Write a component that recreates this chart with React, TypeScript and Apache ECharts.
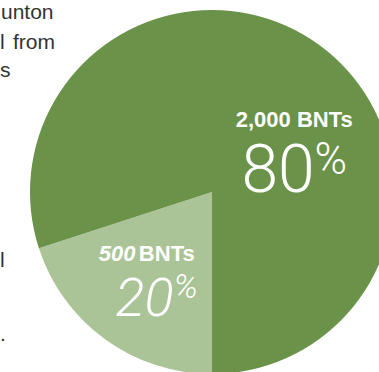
import React, { useEffect, useRef } from 'react';
import * as echarts from 'echarts';

const categories = ['500 BNTs', '2,000 BNTs'];
const amounts = [500, 2000];
const amountLabels = ['500', '2,000'];
const shares = ['20', '80'];
const colors = ['#abc497', '#6a9249'];
const sideTexts = ['unton', 'l', 'from', 's', 'l', '.'];

export default function App() {
  const ref = useRef<HTMLDivElement>(null);
  useEffect(() => {
    const chart = echarts.init(ref.current!, null, { renderer: 'svg' });
    const sidePos = [
      [1, 11],
      [0, 41],
      [13, 41],
      [0, 69],
      [0, 259],
      [0, 333],
    ];
    chart.setOption({
      animation: false,
      graphic: sideTexts.map((t, i) => ({
        type: 'text',
        x: sidePos[i][0],
        y: sidePos[i][1],
        style: {
          text: t,
          fill: '#333333',
          font: '21px "Liberation Sans", Arial, sans-serif',
          verticalAlign: 'middle',
          align: 'left',
        },
      })),
      series: [
        {
          type: 'pie',
          center: [212, 192],
          radius: 182,
          startAngle: 270,
          clockwise: true,
          silent: true,
          labelLine: { show: false },
          emphasis: { disabled: true },
          itemStyle: { borderWidth: 0 },
          label: {
            show: true,
            position: 'inside',
            color: '#ffffff',
            fontFamily: '"Liberation Sans", Arial, sans-serif',
          },
          data: [
            {
              value: amounts[0],
              name: categories[0],
              itemStyle: { color: colors[0] },
              label: {
                offset: [-10, 14],
                formatter: `{a|${amountLabels[0]}} {b|BNTs}\n{c|${shares[0]}}{d|%}`,
                rich: {
                  a: { fontSize: 22, fontWeight: 'bold', fontStyle: 'italic', color: '#fff', fontFamily: '"Liberation Sans", Arial', lineHeight: 31 },
                  b: { fontSize: 22, fontWeight: 'bold', color: '#fff', fontFamily: '"Liberation Sans", Arial', lineHeight: 31 },
                  c: { fontSize: 54, fontWeight: 300, fontStyle: 'italic', color: '#fff', fontFamily: 'Roboto', lineHeight: 58, padding: [0, 0, 0, 20] },
                  d: { fontSize: 34, fontWeight: 300, fontStyle: 'italic', color: '#fff', fontFamily: 'Roboto', lineHeight: 58, verticalAlign: 'top' },
                },
              },
            },
            {
              value: amounts[1],
              name: categories[1],
              itemStyle: { color: colors[1] },
              label: {
                offset: [27, 37],
                formatter: `{b|${amountLabels[1]} BNTs}\n{c|${shares[1]}}{d|%}`,
                rich: {
                  b: { fontSize: 22, fontWeight: 'bold', color: '#fff', fontFamily: '"Liberation Sans", Arial', lineHeight: 34 },
                  c: { fontSize: 66, fontWeight: 300, color: '#fff', fontFamily: 'Roboto', lineHeight: 66 },
                  d: { fontSize: 44, fontWeight: 300, color: '#fff', fontFamily: 'Roboto', lineHeight: 66, verticalAlign: 'top' },
                },
              },
            },
          ],
        },
      ],
    });
    return () => chart.dispose();
  }, []);
  return (
    <div
      ref={ref}
      style={{ position: 'fixed', left: 0, top: 0, width: 379, height: 372, background: '#ffffff' }}
    />
  );
}
